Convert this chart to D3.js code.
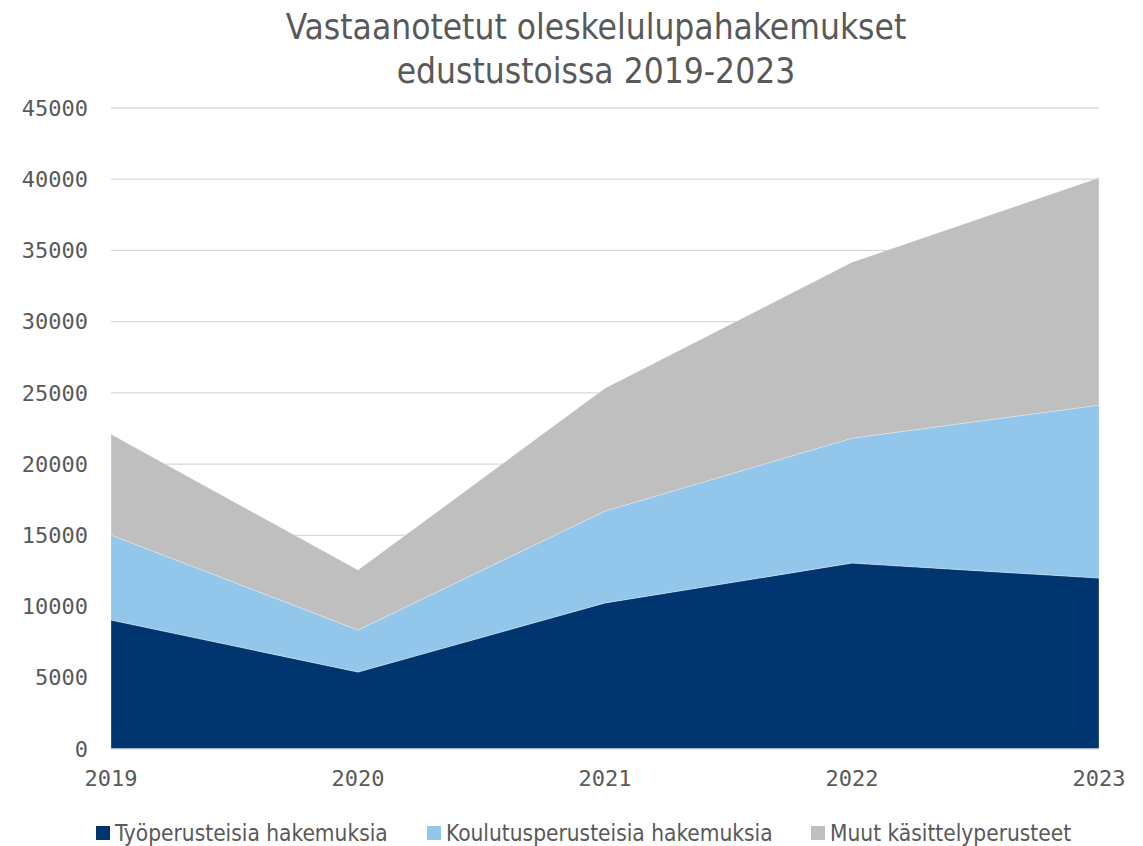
<!DOCTYPE html>
<html>
<head>
<meta charset="utf-8">
<script src="https://cdn.jsdelivr.net/npm/d3@7"></script>
<style>
  body { margin: 0; background: #fff; }
  text { fill: #595959; }
</style>
</head>
<body>
<div id="chart"></div>
<script>
var years = ["2019", "2020", "2021", "2022", "2023"];
var tyo = [9050, 5400, 10250, 13050, 12000];
var koulutus = [5970, 2950, 6450, 8770, 12140];
var muut = [7080, 4210, 8630, 12350, 15960];
var seriesNames = ["Työperusteisia hakemuksia", "Koulutusperusteisia hakemuksia", "Muut käsittelyperusteet"];
var yTicks = [0, 5000, 10000, 15000, 20000, 25000, 30000, 35000, 40000, 45000];
var colors = ["#00356f", "#92c6eb", "#bfbfbf"];

var w = 1143, h = 846;
var plotLeft = 111, plotRight = 1099, plotTop = 108, plotBottom = 749;

var rows = years.map(function(y, i) {
  return { year: y, a: tyo[i], b: koulutus[i], c: muut[i] };
});
var series = d3.stack().keys(["a", "b", "c"])(rows);

var svg = d3.select("#chart").append("svg")
  .attr("width", w).attr("height", h);

var x = d3.scalePoint().domain(years).range([plotLeft, plotRight]);
var y = d3.scaleLinear().domain([0, 45000]).range([plotBottom, plotTop]);

// gridlines
svg.append("g").selectAll("line")
  .data(yTicks.slice(1))
  .enter().append("line")
  .attr("x1", plotLeft).attr("x2", plotRight)
  .attr("y1", function(d) { return y(d); })
  .attr("y2", function(d) { return y(d); })
  .attr("stroke", "#d9d9d9").attr("stroke-width", 1.3);

var area = d3.area()
  .x(function(d) { return x(d.data.year); })
  .y0(function(d) { return y(d[0]); })
  .y1(function(d) { return y(d[1]); });

svg.append("g").selectAll("path")
  .data(series)
  .enter().append("path")
  .attr("d", area)
  .attr("fill", function(d, i) { return colors[i]; })
  .attr("stroke", "#ffffff")
  .attr("stroke-opacity", 0.5)
  .attr("stroke-width", 0.6);

// baseline
svg.append("line")
  .attr("x1", plotLeft).attr("x2", plotRight)
  .attr("y1", y(0)).attr("y2", y(0))
  .attr("stroke", "#d9d9d9").attr("stroke-width", 1.3);

// y tick labels
svg.append("g").selectAll("text")
  .data(yTicks)
  .enter().append("text")
  .attr("x", 88)
  .attr("y", function(d) { return y(d); })
  .attr("dy", "0.35em")
  .attr("text-anchor", "end")
  .style("font-family", "DejaVu Sans Mono")
  .style("font-size", "22px")
  .text(function(d) { return d; });

// x tick labels
svg.append("g").selectAll("text")
  .data(years)
  .enter().append("text")
  .attr("x", function(d) { return x(d); })
  .attr("y", 786)
  .attr("text-anchor", "middle")
  .style("font-family", "DejaVu Sans Mono")
  .style("font-size", "22px")
  .text(function(d) { return d; });

// title
var title = svg.append("text")
  .attr("text-anchor", "middle")
  .style("font-family", "DejaVu Sans Condensed")
  .style("font-size", "35px");
title.append("tspan").attr("x", 596).attr("y", 39).text("Vastaanotetut oleskelulupahakemukset");
title.append("tspan").attr("x", 596).attr("y", 83).text("edustustoissa 2019-2023");

// legend
var legX = [96, 427, 811];
var leg = svg.append("g").selectAll("g")
  .data(seriesNames)
  .enter().append("g")
  .attr("transform", function(d, i) { return "translate(" + legX[i] + ",826)"; });
leg.append("rect")
  .attr("width", 14).attr("height", 14)
  .attr("fill", function(d, i) { return colors[i]; });
leg.append("text")
  .attr("x", 19).attr("y", 15)
  .style("font-family", "DejaVu Sans Condensed")
  .style("font-size", "22.5px")
  .text(function(d) { return d; });
</script>
</body>
</html>
